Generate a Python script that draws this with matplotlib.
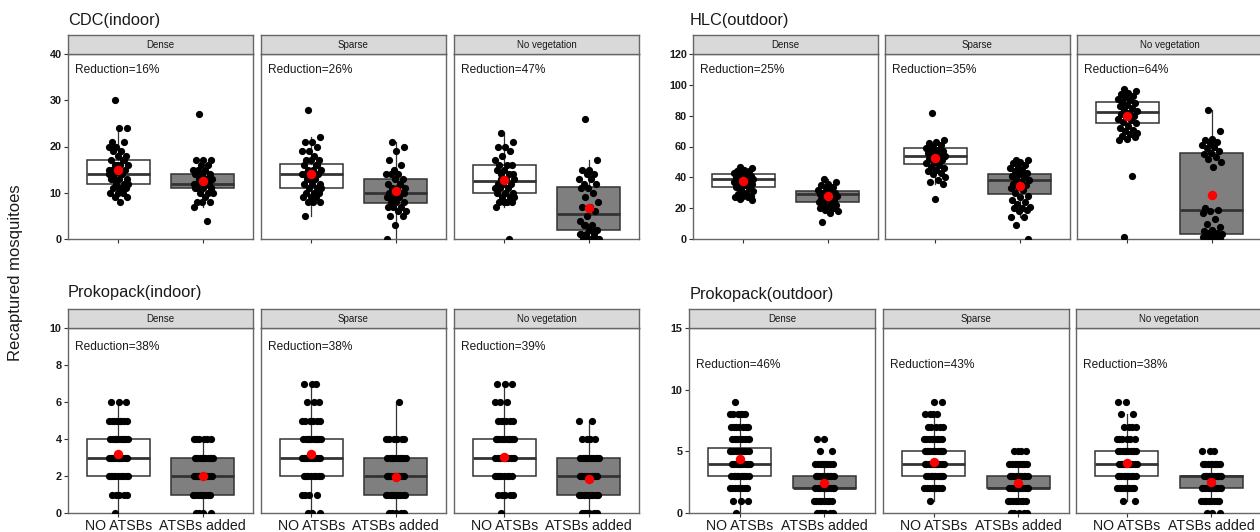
import numpy as np
import matplotlib
matplotlib.use("Agg")
import matplotlib.pyplot as plt

plt.rcParams['font.family'] = ['Liberation Sans', 'DejaVu Sans']

# ---------------- data ----------------
conditions = ["Dense", "Sparse", "No vegetation"]
treatments = ["NO ATSBs", "ATSBs added"]
titles = ["CDC(indoor)", "HLC(outdoor)", "Prokopack(indoor)", "Prokopack(outdoor)"]
y_max = [40, 120, 10, 15]
y_ticks = [[0, 10, 20, 30, 40], [0, 20, 40, 60, 80, 100, 120], [0, 2, 4, 6, 8, 10], [0, 5, 10, 15]]
reductions = [[16, 26, 47], [25, 35, 64], [38, 38, 39], [46, 43, 38]]
reduction_y = [36.5, 109.5, 9.0, 12.0]

# CDC (indoor) raw counts
cdc_dense_no = [30, 24, 24, 21, 21, 20, 20, 19, 19, 18, 18, 17, 17, 16, 16, 16, 15, 15, 15, 14, 14, 14, 13, 13,
                13, 12, 12, 12, 11, 11, 11, 10, 10, 10, 9, 9, 8, 20, 17, 16, 15, 14, 13, 12, 11]
cdc_dense_atsb = [27, 17, 17, 17, 16, 16, 15, 15, 15, 14, 14, 14, 13, 13, 13, 13, 12, 12, 12, 12, 12, 11, 11, 11,
                  11, 10, 10, 10, 9, 8, 8, 8, 7, 4, 12, 11]
cdc_sparse_no = [28, 22, 21, 21, 20, 19, 19, 18, 17, 17, 17, 16, 16, 15, 15, 15, 14, 14, 14, 14, 13, 13, 12, 12,
                 12, 11, 11, 11, 10, 10, 10, 9, 9, 9, 8, 8, 8, 5, 16, 13]
cdc_sparse_atsb = [21, 20, 19, 17, 16, 15, 14, 14, 14, 13, 13, 12, 12, 11, 11, 11, 10, 10, 10, 9, 9, 8, 8, 8, 7, 7,
                   7, 6, 6, 5, 5, 3, 0, 12, 9, 10]
cdc_noveg_no = [23, 21, 20, 20, 19, 18, 17, 16, 16, 16, 15, 15, 14, 14, 13, 13, 12, 12, 12, 11, 11, 11, 10, 10, 10,
                9, 9, 9, 8, 8, 8, 8, 7, 0, 13, 14]
cdc_noveg_atsb = [26, 17, 15, 15, 14, 14, 13, 13, 12, 12, 11, 11, 10, 9, 8, 7, 7, 6, 5, 4, 3, 3, 2, 2, 1, 1, 1, 0, 0,
                  0, 0, 0, 1, 2, 3, 0]

# HLC (outdoor) raw counts
hlc_dense_no = [47, 46, 45, 44, 44, 43, 43, 42, 42, 41, 41, 40, 40, 40, 39, 39, 39, 38, 38, 37, 37, 36, 36, 35, 34,
                33, 32, 31, 30, 29, 28, 28, 27, 27, 26, 25, 42, 38]
hlc_dense_atsb = [39, 37, 36, 35, 34, 33, 32, 31, 30, 30, 30, 29, 29, 28, 28, 27, 26, 25, 25, 24, 23, 22, 22, 21,
                  20, 20, 19, 18, 17, 11]
hlc_sparse_no = [82, 64, 63, 62, 61, 60, 59, 58, 57, 57, 56, 56, 55, 55, 54, 53, 52, 51, 50, 49, 48, 47, 46, 45, 44,
                 43, 42, 40, 38, 37, 36, 26]
hlc_sparse_atsb = [51, 51, 50, 49, 48, 47, 46, 45, 44, 43, 42, 41, 40, 39, 38, 37, 36, 35, 34, 33, 32, 30, 28, 27,
                   25, 24, 23, 21, 20, 20, 19, 18, 14, 14, 9, 0]
hlc_noveg_no = [97, 96, 95, 94, 93, 92, 91, 90, 89, 88, 87, 86, 85, 84, 83, 82, 81, 80, 79, 78, 77, 76, 75, 73, 72,
                71, 70, 69, 68, 67, 66, 65, 64, 41, 1]
hlc_noveg_atsb = [84, 70, 65, 64, 63, 62, 61, 60, 59, 57, 56, 55, 53, 52, 50, 47, 20, 19, 18, 17, 13, 10, 8, 6, 5, 4,
                  4, 3, 3, 2, 2, 1, 1, 1, 0, 0, 0, 0, 2, 1]

# Prokopack: number of traps with 0, 1, 2, ... mosquitoes
pin_dense_no = [1, 5, 9, 10, 10, 8, 3]
pin_dense_atsb = [4, 8, 10, 10, 6]
pin_sparse_no = [3, 4, 8, 10, 10, 6, 3, 3]
pin_sparse_atsb = [5, 10, 10, 10, 6, 0, 1]
pin_noveg_no = [1, 5, 8, 10, 10, 6, 3, 3]
pin_noveg_atsb = [6, 10, 10, 10, 4, 2]
pout_dense_no = [1, 3, 8, 10, 10, 10, 8, 7, 6, 1]
pout_dense_atsb = [6, 8, 10, 10, 8, 2, 2]
pout_sparse_no = [0, 1, 8, 10, 10, 10, 8, 5, 4, 2]
pout_sparse_atsb = [5, 8, 10, 10, 8, 4]
pout_noveg_no = [0, 2, 8, 10, 10, 10, 6, 4, 2, 2]
pout_noveg_atsb = [3, 8, 10, 10, 8, 3]

# box statistics: (lower whisker, Q1, median, Q3, upper whisker)
box_cdc = [[(8, 12, 14, 17, 24), (7, 11, 12, 14, 17)],
           [(5, 11, 14, 16.3, 22), (0, 7.7, 10, 13, 21)],
           [(7, 10, 12.5, 16, 23), (0, 2, 5.5, 11.3, 17)]]
box_hlc = [[(25, 34, 39, 42, 47), (17, 24, 29.5, 31, 39)],
           [(36, 48.5, 54, 59, 64), (14, 29.5, 38.5, 42, 51)],
           [(64, 75, 82.5, 89, 97), (0, 3, 18.5, 56, 84)]]
box_pin = [[(0, 2, 3, 4, 6), (0, 1, 2, 3, 4)],
           [(0, 2, 3, 4, 7), (0, 1, 2, 3, 6)],
           [(0, 2, 3, 4, 7), (0, 1, 2, 3, 5)]]
box_pout = [[(0, 3, 4, 5.25, 8), (1, 2, 2, 3, 4)],
            [(1, 3, 4, 5, 8), (1, 2, 2, 3, 4)],
            [(1, 3, 4, 5, 8), (1, 2, 3, 3, 4)]]

mean_cdc = [[15.0, 12.5], [14.0, 10.3], [12.8, 6.8]]
mean_hlc = [[37.5, 28.0], [52.5, 34.5], [79.5, 28.5]]
mean_pin = [[3.2, 2.0], [3.2, 1.95], [3.05, 1.85]]
mean_pout = [[4.35, 2.45], [4.15, 2.4], [4.05, 2.55]]


def expand(counts):
    return np.repeat(np.arange(len(counts)), counts)


points = [
    [[cdc_dense_no, cdc_dense_atsb], [cdc_sparse_no, cdc_sparse_atsb], [cdc_noveg_no, cdc_noveg_atsb]],
    [[hlc_dense_no, hlc_dense_atsb], [hlc_sparse_no, hlc_sparse_atsb], [hlc_noveg_no, hlc_noveg_atsb]],
    [[expand(pin_dense_no), expand(pin_dense_atsb)], [expand(pin_sparse_no), expand(pin_sparse_atsb)],
     [expand(pin_noveg_no), expand(pin_noveg_atsb)]],
    [[expand(pout_dense_no), expand(pout_dense_atsb)], [expand(pout_sparse_no), expand(pout_sparse_atsb)],
     [expand(pout_noveg_no), expand(pout_noveg_atsb)]],
]
boxes = [box_cdc, box_hlc, box_pin, box_pout]
means = [mean_cdc, mean_hlc, mean_pin, mean_pout]

# ---------------- layout (pixels) ----------------
W, H = 1260, 532
fig = plt.figure(figsize=(W / 100, H / 100), dpi=100)

panel_x = [
    [(68, 253), (261, 446), (454, 639)],
    [(693, 878), (885, 1070), (1077, 1262)],
    [(68, 253), (261, 446), (454, 639)],
    [(689, 875), (883, 1069), (1076, 1262)],
]
panel_y = [(54, 239), (54, 239), (328, 513), (328, 513)]
strip_h = 19
title_pos = [(68, 20), (690, 20), (68, 292), (690, 295)]

EDGE = "#333333"
BORDER = "#666666"
FILL = ["white", "#7f7f7f"]


def rect(x0, y0, x1, y1):
    return [x0 / W, 1 - y1 / H, (x1 - x0) / W, (y1 - y0) / H]


def jitter(n, width=0.12):
    k = np.arange(n)
    return ((k * 0.6180339887 + 0.31) % 1.0 - 0.5) * 2 * width


for g in range(4):
    y0, y1 = panel_y[g]
    fig.text(title_pos[g][0] / W, 1 - title_pos[g][1] / H, titles[g], fontsize=11.8,
             ha="left", va="center", color="#1a1a1a")
    for c in range(3):
        x0, x1 = panel_x[g][c]
        ax = fig.add_axes(rect(x0, y0, x1, y1))
        ax.set_xlim(0.4, 2.6)
        ax.set_ylim(0, y_max[g])
        stats = []
        for t in range(2):
            wl, q1, med, q3, wh = boxes[g][c][t]
            stats.append(dict(whislo=wl, q1=q1, med=med, q3=q3, whishi=wh, fliers=[], label=treatments[t]))
        bp = ax.bxp(stats, positions=[1, 2], widths=0.75, showfliers=False, patch_artist=True,
                    showcaps=False,
                    boxprops=dict(edgecolor=EDGE, linewidth=1.1),
                    whiskerprops=dict(color=EDGE, linewidth=0.9),
                    medianprops=dict(color=EDGE, linewidth=2.0))
        for t, patch in enumerate(bp["boxes"]):
            patch.set_facecolor(FILL[t])
        for t in range(2):
            vals = np.asarray(points[g][c][t], dtype=float)
            ax.scatter(t + 1 + jitter(len(vals)), vals, s=27, color="black", zorder=3, linewidths=0)
            ax.scatter([t + 1], [means[g][c][t]], s=46, color="red", zorder=4, linewidths=0)
        ax.text(0.038, reduction_y[g], "Reduction=%d%%" % reductions[g][c], fontsize=8.6,
                ha="left", va="center", color="#1a1a1a", transform=ax.get_yaxis_transform())
        for sp in ax.spines.values():
            sp.set_color(BORDER)
            sp.set_linewidth(1.0)
        ax.set_xticks([1, 2])
        if g >= 2:
            ax.set_xticklabels(treatments, fontsize=10.2, color="#1a1a1a")
        else:
            ax.set_xticklabels(["", ""])
        ax.tick_params(axis="x", length=3, color=EDGE, pad=1.5)
        if c == 0:
            ax.set_yticks(y_ticks[g])
            ax.set_yticklabels([str(v) for v in y_ticks[g]], fontsize=7.8, fontweight="bold", color="#1a1a1a")
            ax.tick_params(axis="y", length=3, color=EDGE, pad=1.5)
        else:
            ax.set_yticks([])
        # strip
        sax = fig.add_axes(rect(x0, y0 - strip_h, x1, y0))
        sax.set_facecolor("#d9d9d9")
        sax.set_xticks([])
        sax.set_yticks([])
        for sp in sax.spines.values():
            sp.set_color(BORDER)
            sp.set_linewidth(1.0)
        sax.text(0.5, 0.5, conditions[c], fontsize=7, ha="center", va="center", color="#1a1a1a",
                 transform=sax.transAxes)

fig.text(16 / W, 1 - 273 / H, "Recaptured mosquitoes", rotation=90, fontsize=12,
         ha="center", va="center", color="#1a1a1a")

fig.savefig("out.png", dpi=100)
